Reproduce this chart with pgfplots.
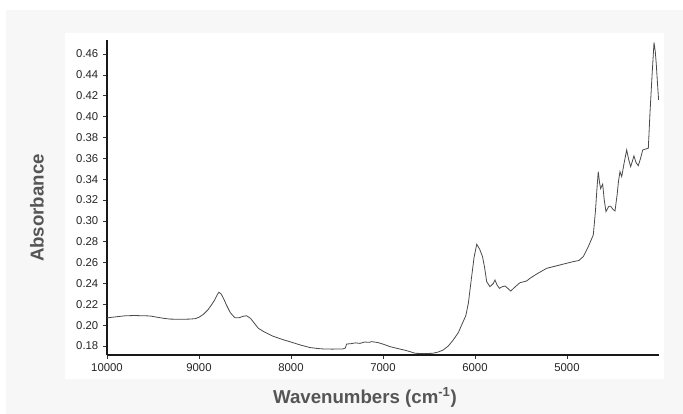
\documentclass[border=0pt]{standalone}
\usepackage{fontspec}
\setmainfont{Liberation Sans}
\usepackage{pgfplots}
\pgfplotsset{compat=1.18}
\definecolor{panelgray}{HTML}{F7F7F7}
\definecolor{labelgray}{HTML}{555555}
\definecolor{linegray}{HTML}{4A4A4A}
\begin{document}
\begin{tikzpicture}
\path[use as bounding box] (0,0) rectangle (512.25pt,310.5pt);
\fill[white] (0,0) rectangle (512.25pt,310.5pt);
\fill[panelgray] (4.5pt,0) rectangle (512.25pt,303pt);
\fill[white] (48.75pt,26.25pt) rectangle (498pt,285.75pt);
\node[rotate=90, font=\bfseries\fontsize{14}{16}\selectfont, text=labelgray] at (27.75pt,154.5pt) {Absorbance};
\node[font=\bfseries\fontsize{14}{16}\selectfont, text=labelgray] at (273.75pt,12.75pt) {Wavenumbers (cm\textsuperscript{-1})};
\begin{axis}[
  at={(80.25pt,44.25pt)}, anchor=south west,
  scale only axis, width=414pt, height=236.25pt,
  x dir=reverse, xmin=4000, xmax=10000,
  ymin=0.17137, ymax=0.47342,
  axis x line*=bottom, axis y line*=left,
  axis line style={line width=1.1pt, black!90, -},
  xtick={5000,6000,7000,8000,9000,10000},
  ytick={0.18,0.20,0.22,0.24,0.26,0.28,0.30,0.32,0.34,0.36,0.38,0.40,0.42,0.44,0.46},
  scaled x ticks=false, scaled y ticks=false,
  tick align=outside,
  major tick length=3pt,
  tick style={black!80, line width=0.5pt},
  ticklabel style={font=\fontsize{8.5}{10}\selectfont, text=black!85},
  /pgf/number format/assume math mode=true,
  xticklabel style={/pgf/number format/1000 sep={}},
  yticklabel style={/pgf/number format/.cd, fixed, fixed zerofill, precision=2},
]
\addplot[linegray, line width=0.6pt] table {
10000 0.2070
9900 0.2080
9800 0.2090
9700 0.2092
9600 0.2090
9533 0.2088
9450 0.2075
9380 0.2065
9315 0.2058
9200 0.2056
9100 0.2058
9043 0.2062
9000 0.2075
8950 0.2105
8900 0.2150
8860 0.2200
8830 0.2240
8800 0.2295
8783 0.2315
8760 0.2300
8730 0.2250
8700 0.2190
8660 0.2120
8609 0.2070
8560 0.2072
8520 0.2085
8482 0.2090
8440 0.2065
8400 0.2020
8355 0.1970
8300 0.1940
8200 0.1895
8083 0.1860
8000 0.1838
7900 0.1810
7793 0.1785
7700 0.1775
7652 0.1772
7550 0.1770
7435 0.1772
7410 0.1780
7395 0.1819
7350 0.1822
7300 0.1830
7250 0.1825
7200 0.1838
7150 0.1835
7123 0.1842
7050 0.1832
6980 0.1812
6924 0.1794
6850 0.1778
6750 0.1757
6707 0.1746
6650 0.1730
6550 0.1727
6460 0.1730
6400 0.1742
6345 0.1762
6290 0.1800
6236 0.1858
6180 0.1930
6145 0.2002
6100 0.2090
6072 0.2210
6040 0.2440
6010 0.2650
5981 0.2775
5950 0.2730
5918 0.2657
5895 0.2550
5873 0.2417
5837 0.2369
5800 0.2400
5783 0.2433
5760 0.2385
5735 0.2353
5700 0.2370
5673 0.2375
5640 0.2350
5612 0.2327
5560 0.2370
5511 0.2407
5440 0.2423
5400 0.2450
5330 0.2490
5221 0.2545
5076 0.2577
4932 0.2609
4870 0.2620
4823 0.2657
4768 0.2753
4714 0.2865
4690 0.3100
4675 0.3300
4660 0.3472
4645 0.3360
4634 0.3310
4612 0.3352
4595 0.3200
4576 0.3089
4545 0.3140
4525 0.3140
4500 0.3110
4478 0.3095
4455 0.3250
4440 0.3380
4424 0.3472
4405 0.3424
4380 0.3550
4351 0.3680
4330 0.3590
4308 0.3520
4290 0.3570
4272 0.3623
4250 0.3560
4225 0.3529
4200 0.3600
4177 0.3680
4140 0.3690
4116 0.3696
4098 0.4032
4075 0.4400
4054 0.4710
4040 0.4620
4030 0.4510
4015 0.4300
4004 0.4160
};
\end{axis}
\end{tikzpicture}
\end{document}
